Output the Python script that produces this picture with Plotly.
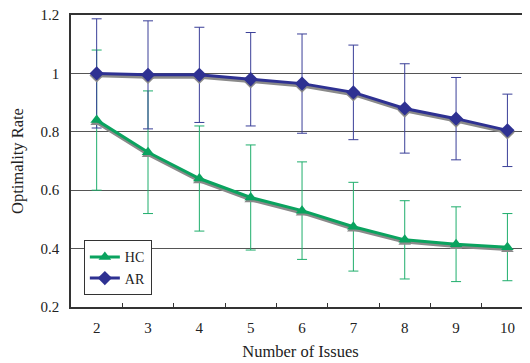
import plotly.graph_objects as go

issues = ["2", "3", "4", "5", "6", "7", "8", "9", "10"]
hc_mean = [0.84, 0.73, 0.64, 0.575, 0.53, 0.475, 0.43, 0.415, 0.405]
hc_err = [0.24, 0.21, 0.18, 0.18, 0.167, 0.152, 0.134, 0.128, 0.115]
ar_mean = [1.0, 0.995, 0.995, 0.98, 0.965, 0.935, 0.88, 0.845, 0.805]
ar_err = [0.187, 0.185, 0.163, 0.16, 0.17, 0.162, 0.153, 0.141, 0.124]
yticks = [0.2, 0.4, 0.6, 0.8, 1.0, 1.2]
yticktext = ["0.2", "0.4", "0.6", "0.8", "1", "1.2"]

HC_COL = "#0aa35f"
AR_COL = "#2e3192"
HC_ERR_COL = "#1fae6c"
AR_ERR_COL = "#3a3f98"
SHADOW = "#8a8a8a"
shadow_dy = 0.007

fig = go.Figure()

for mean, err, col in [(hc_mean, hc_err, HC_ERR_COL), (ar_mean, ar_err, AR_ERR_COL)]:
    fig.add_trace(go.Scatter(
        x=issues, y=mean, mode="lines",
        error_y=dict(type="data", array=err, color=col, thickness=1, width=5),
        line=dict(color="rgba(0,0,0,0)", width=0), showlegend=False, hoverinfo="skip"))

for mean, sym in [(hc_mean, "triangle-up"), (ar_mean, "diamond")]:
    fig.add_trace(go.Scatter(
        x=issues, y=[v - shadow_dy for v in mean], mode="lines+markers",
        line=dict(color=SHADOW, width=3.5),
        marker=dict(symbol=sym, size=11, color=SHADOW),
        showlegend=False, hoverinfo="skip"))

fig.add_trace(go.Scatter(
    x=issues, y=hc_mean, mode="lines+markers", name="HC",
    line=dict(color=HC_COL, width=3),
    marker=dict(symbol="triangle-up", size=11, color=HC_COL)))
fig.add_trace(go.Scatter(
    x=issues, y=ar_mean, mode="lines+markers", name="AR",
    line=dict(color=AR_COL, width=3),
    marker=dict(symbol="diamond", size=11, color=AR_COL)))

font = dict(family="Liberation Serif, Times New Roman, serif", size=15, color="#222")

# page body has an 8px default margin; size the figure to fill the rest
fig.update_layout(
    width=522, height=355,
    margin=dict(l=63, r=0, t=7, b=56, autoexpand=False),
    paper_bgcolor="white", plot_bgcolor="white",
    font=font,
    xaxis=dict(
        type="category", range=[-0.5, 8.44], automargin=False,
        tickson="boundaries", ticks="inside", ticklen=4, tickcolor="#333",
        ticklabelstandoff=6, ticklabeloverflow="allow",
        showline=True, linecolor="#333", linewidth=1.5, mirror=True,
        showgrid=False, zeroline=False,
        title=dict(text="Number of Issues", standoff=11, font=dict(size=16.5)),
    ),
    yaxis=dict(
        range=[0.2, 1.2], tickvals=yticks, ticktext=yticktext, automargin=False,
        showgrid=True, gridcolor="#555", gridwidth=1,
        showline=True, linecolor="#333", linewidth=1.5,
        ticks="", zeroline=False, ticklabelstandoff=7, ticklabeloverflow="allow",
        title=dict(text="Optimality Rate", standoff=14, font=dict(size=16.5)),
    ),
    legend=dict(
        x=0.028, y=0.04, xanchor="left", yanchor="bottom",
        bordercolor="#333", borderwidth=1, bgcolor="white",
        font=dict(size=14), tracegroupgap=0, itemwidth=30,
    ),
)

fig.write_html("out.html")
